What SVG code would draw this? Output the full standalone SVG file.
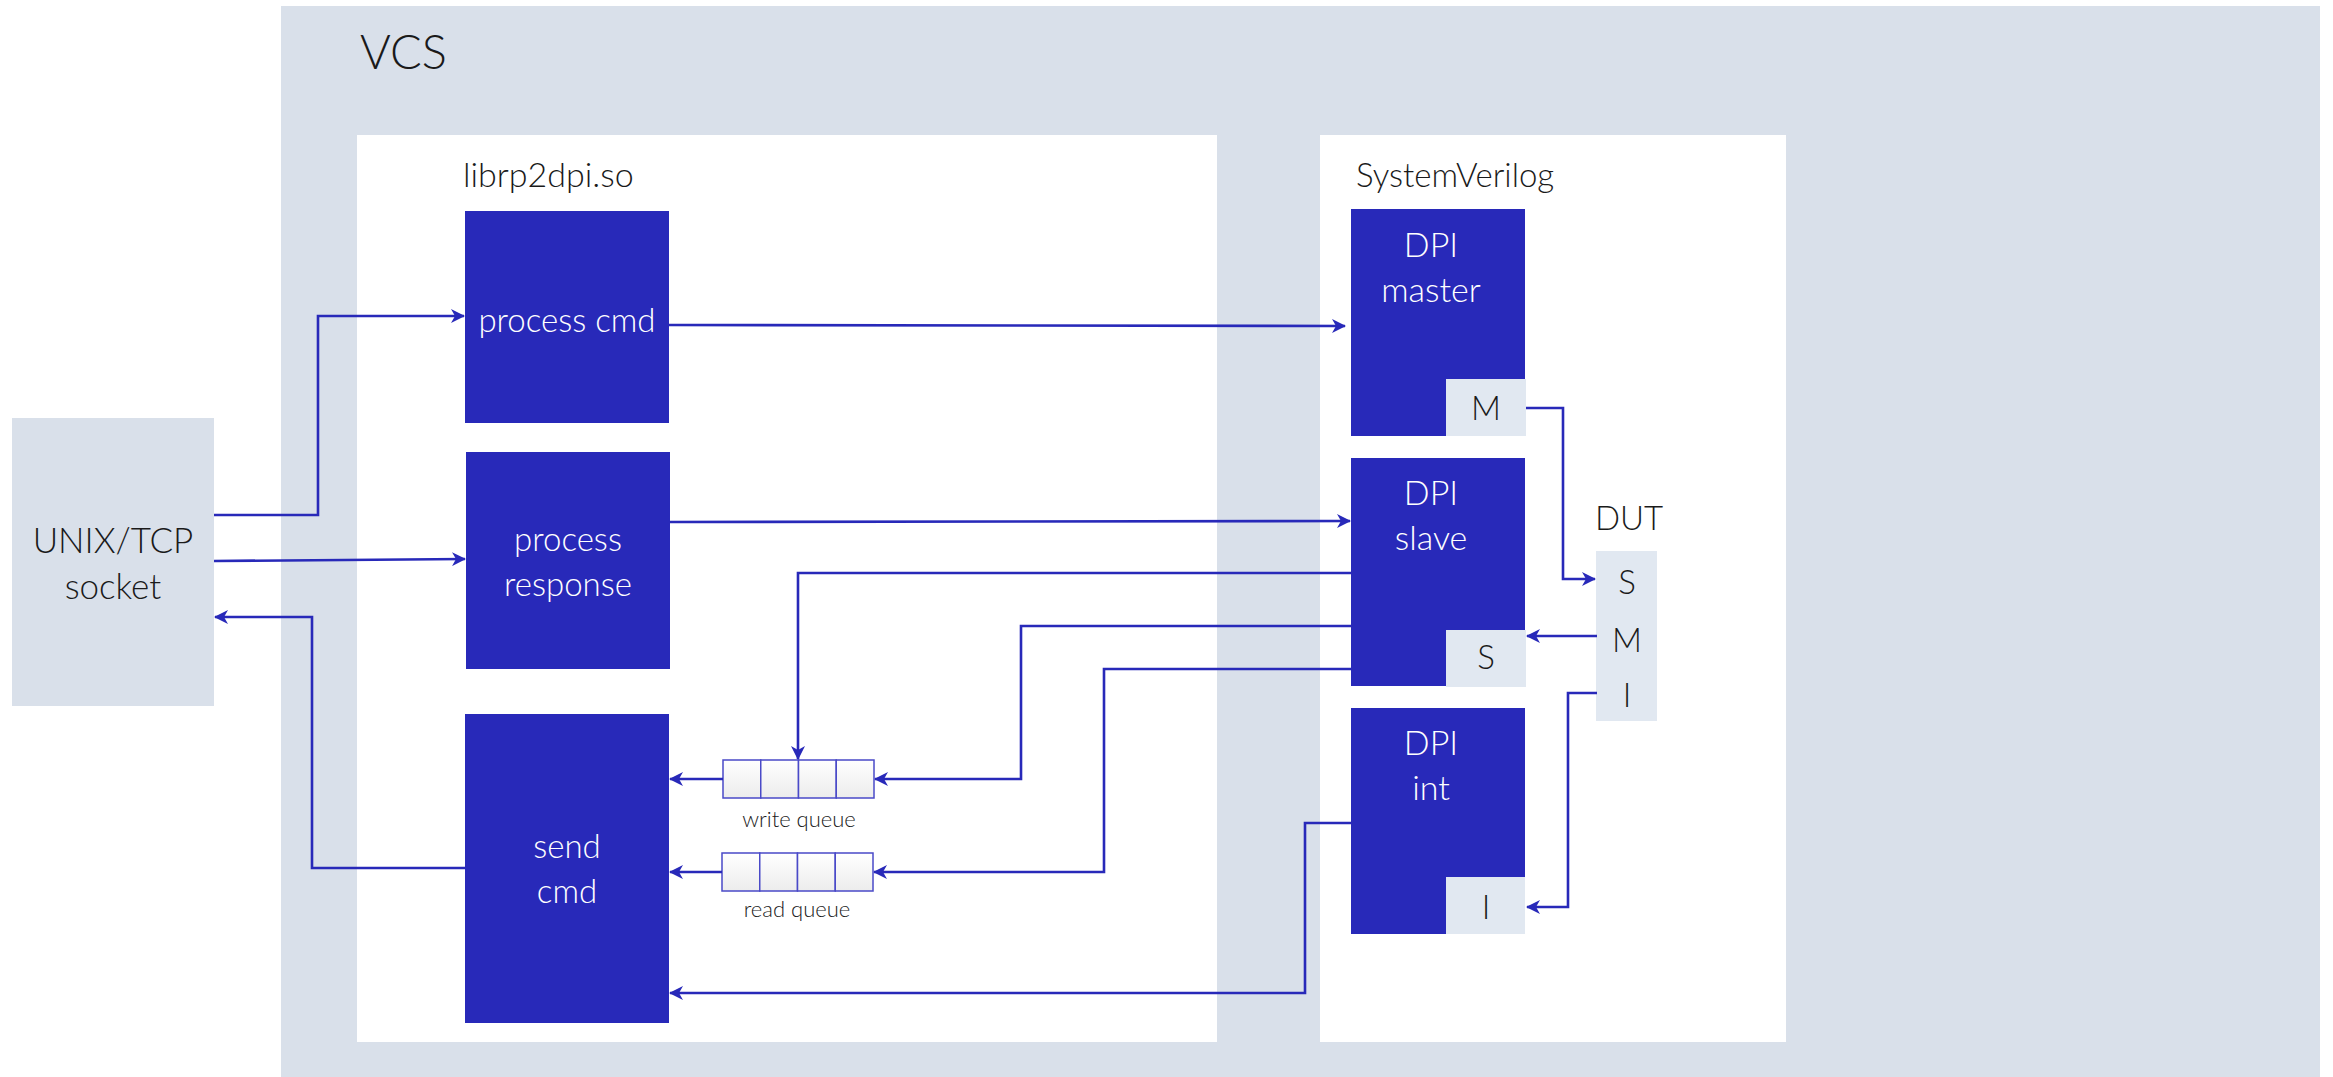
<svg xmlns="http://www.w3.org/2000/svg" width="2333" height="1077" viewBox="0 0 2333 1077">
<style>
.bg{fill:#d9e0ea}
.white{fill:#ffffff}
.blk{fill:#2829b9}
.port{fill:#e1e8f1}
.t{font-family:Lato,"Liberation Sans",sans-serif;font-weight:300;fill:#1a1a1a}
.tw{font-family:Lato,"Liberation Sans",sans-serif;font-weight:300;fill:#ffffff}
.c{fill:none;stroke:#2829b9;stroke-width:2.6;stroke-linejoin:miter}
.q{fill:url(#qg);stroke:#4a4ac8;stroke-width:1.5}
</style>
<defs>
<marker id="ah" viewBox="0 0 14 14" refX="13" refY="7" markerWidth="14" markerHeight="14" markerUnits="userSpaceOnUse" orient="auto">
<path d="M0,0 L14,7 L0,14 L4,7 z" fill="#2829b9"/>
</marker>
<linearGradient id="qg" x1="0" y1="0" x2="0" y2="1">
<stop offset="0" stop-color="#ffffff"/>
<stop offset="1" stop-color="#ececec"/>
</linearGradient>
</defs>

<g id="vcs">
<rect class="bg" x="281" y="6" width="2039" height="1071"/>
<text class="t" x="360" y="69" font-size="47">VCS</text>
</g>

<g id="librp2dpi">
<rect class="white" x="357" y="135" width="860" height="907"/>
<text class="t" x="463" y="187" font-size="34">librp2dpi.so</text>
</g>

<g id="systemverilog">
<rect class="white" x="1320" y="135" width="466" height="907"/>
<text class="t" x="1356" y="187" font-size="33">SystemVerilog</text>
</g>

<g id="socket">
<rect class="bg" x="12" y="418" width="202" height="288"/>
<text class="t" x="113" y="553" font-size="35" text-anchor="middle">UNIX/TCP</text>
<text class="t" x="113" y="599" font-size="35" text-anchor="middle">socket</text>
</g>

<g id="process-cmd">
<rect class="blk" x="465" y="211" width="204" height="212"/>
<text class="tw" x="567" y="332" font-size="33" text-anchor="middle">process cmd</text>
</g>

<g id="process-response">
<rect class="blk" x="466" y="452" width="204" height="217"/>
<text class="tw" x="568" y="551" font-size="33" text-anchor="middle">process</text>
<text class="tw" x="568" y="596" font-size="33" text-anchor="middle">response</text>
</g>

<g id="send-cmd">
<rect class="blk" x="465" y="714" width="204" height="309"/>
<text class="tw" x="567" y="858" font-size="33" text-anchor="middle">send</text>
<text class="tw" x="567" y="903" font-size="33" text-anchor="middle">cmd</text>
</g>

<g id="write-queue">
<rect class="q" x="723" y="760" width="37.75" height="38"/>
<rect class="q" x="760.75" y="760" width="37.75" height="38"/>
<rect class="q" x="798.5" y="760" width="37.75" height="38"/>
<rect class="q" x="836.25" y="760" width="37.75" height="38"/>
<text class="t" x="799" y="827" font-size="22" text-anchor="middle">write queue</text>
</g>

<g id="read-queue">
<rect class="q" x="722" y="853" width="37.75" height="38"/>
<rect class="q" x="759.75" y="853" width="37.75" height="38"/>
<rect class="q" x="797.5" y="853" width="37.75" height="38"/>
<rect class="q" x="835.25" y="853" width="37.75" height="38"/>
<text class="t" x="797" y="917" font-size="22" text-anchor="middle">read queue</text>
</g>

<g id="dpi-master">
<rect class="blk" x="1351" y="209" width="174" height="227"/>
<text class="tw" x="1431" y="257" font-size="34" text-anchor="middle">DPI</text>
<text class="tw" x="1431" y="302" font-size="34" text-anchor="middle">master</text>
<rect class="port" x="1446" y="379" width="80" height="57"/>
<text class="t" x="1486" y="420" font-size="33" text-anchor="middle">M</text>
</g>

<g id="dpi-slave">
<rect class="blk" x="1351" y="458" width="174" height="228"/>
<text class="tw" x="1431" y="505" font-size="34" text-anchor="middle">DPI</text>
<text class="tw" x="1431" y="550" font-size="34" text-anchor="middle">slave</text>
<rect class="port" x="1446" y="630" width="80" height="57"/>
<text class="t" x="1486" y="669" font-size="33" text-anchor="middle">S</text>
</g>

<g id="dpi-int">
<rect class="blk" x="1351" y="708" width="174" height="226"/>
<text class="tw" x="1431" y="755" font-size="34" text-anchor="middle">DPI</text>
<text class="tw" x="1431" y="800" font-size="34" text-anchor="middle">int</text>
<rect class="port" x="1446" y="877" width="79" height="57"/>
<text class="t" x="1486" y="919" font-size="33" text-anchor="middle">I</text>
</g>

<g id="dut">
<text class="t" x="1629" y="530" font-size="33" text-anchor="middle">DUT</text>
<rect class="port" x="1596" y="551" width="61" height="170"/>
<text class="t" x="1627" y="594" font-size="33" text-anchor="middle">S</text>
<text class="t" x="1627" y="652" font-size="33" text-anchor="middle">M</text>
<text class="t" x="1627" y="707" font-size="33" text-anchor="middle">I</text>
</g>

<g id="connectors">
<path class="c" d="M214,515 H318 V316 H464" marker-end="url(#ah)"/>
<path class="c" d="M214,561 L465,559" marker-end="url(#ah)"/>
<path class="c" d="M465,868 H312 V617 H215" marker-end="url(#ah)"/>
<path class="c" d="M669,325 L1345,326" marker-end="url(#ah)"/>
<path class="c" d="M670,522 L1350,521" marker-end="url(#ah)"/>
<path class="c" d="M1526,408 H1563 V579 H1595" marker-end="url(#ah)"/>
<path class="c" d="M1597,636 H1527" marker-end="url(#ah)"/>
<path class="c" d="M1597,693 H1568 V907 H1527" marker-end="url(#ah)"/>
<path class="c" d="M1351,573 H798 V759" marker-end="url(#ah)"/>
<path class="c" d="M1351,626 H1021 V779 H875" marker-end="url(#ah)"/>
<path class="c" d="M1351,669 H1104 V872 H874" marker-end="url(#ah)"/>
<path class="c" d="M723,779 H670" marker-end="url(#ah)"/>
<path class="c" d="M722,872 H670" marker-end="url(#ah)"/>
<path class="c" d="M1351,823 H1305 V993 H670" marker-end="url(#ah)"/>
</g>
</svg>
